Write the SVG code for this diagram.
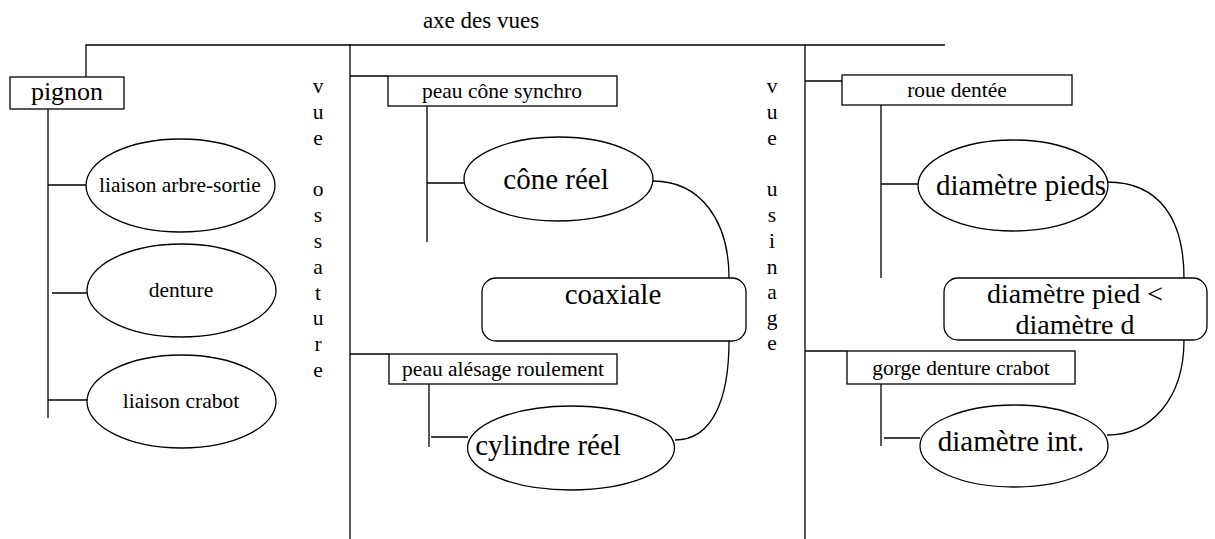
<svg xmlns="http://www.w3.org/2000/svg" width="1215" height="539" viewBox="0 0 1215 539">
<style>
.ln{fill:none;stroke:#000;stroke-width:1.3}
.bx{fill:#fff;stroke:#000;stroke-width:1.3}
</style>
<rect width="1215" height="539" fill="#fff"/>
<g id="connectors">
<polyline class="ln" points="86,77 86,45 945,45"/>
<line class="ln" x1="350" y1="44" x2="350" y2="539"/>
<line class="ln" x1="805" y1="45" x2="805" y2="539"/>
<line class="ln" x1="48" y1="109" x2="48" y2="418"/>
<line class="ln" x1="48" y1="185" x2="86" y2="185"/>
<line class="ln" x1="52" y1="293" x2="88" y2="293"/>
<line class="ln" x1="48" y1="400" x2="87" y2="400"/>
<line class="ln" x1="350" y1="76" x2="388" y2="76"/>
<line class="ln" x1="427" y1="106" x2="427" y2="242"/>
<line class="ln" x1="427" y1="183" x2="464" y2="183"/>
<line class="ln" x1="350" y1="354" x2="389" y2="354"/>
<line class="ln" x1="429" y1="384" x2="429" y2="447"/>
<line class="ln" x1="431" y1="437" x2="468" y2="437"/>
<line class="ln" x1="805" y1="81" x2="842" y2="81"/>
<line class="ln" x1="881" y1="105" x2="881" y2="278"/>
<line class="ln" x1="881" y1="184" x2="918" y2="184"/>
<line class="ln" x1="805" y1="351" x2="847" y2="351"/>
<line class="ln" x1="881" y1="384" x2="881" y2="446"/>
<line class="ln" x1="884" y1="438" x2="920" y2="438"/>
<path class="ln" d="M653 181 C700 181 729 220 729 278"/>
<path class="ln" d="M729 341 C729 400 712 440 675 440"/>
<path class="ln" d="M1107 182 C1160 182 1184 220 1184 278"/>
<path class="ln" d="M1184 340 C1184 400 1150 435 1107 435"/>
</g>
<g font-family="Liberation Serif, serif" fill="#000" text-anchor="middle">
<text x="481" y="28" font-size="23">axe des vues</text>
<g id="vue-ossature" font-size="21.5">
<text x="318" y="93">v</text>
<text x="318" y="119">u</text>
<text x="318" y="145">e</text>
<text x="318" y="196">o</text>
<text x="318" y="222">s</text>
<text x="318" y="248">s</text>
<text x="318" y="274">a</text>
<text x="318" y="300">t</text>
<text x="318" y="325">u</text>
<text x="318" y="351">r</text>
<text x="318" y="377">e</text>
</g>
<g id="vue-usinage" font-size="21.5">
<text x="772" y="93">v</text>
<text x="772" y="119">u</text>
<text x="772" y="145">e</text>
<text x="772" y="196">u</text>
<text x="772" y="222">s</text>
<text x="772" y="248">i</text>
<text x="772" y="274">n</text>
<text x="772" y="299">a</text>
<text x="772" y="325">g</text>
<text x="772" y="350">e</text>
</g>
<g id="pignon">
<rect class="bx" x="10" y="77" width="114" height="32"/>
<text x="67" y="100" font-size="26">pignon</text>
</g>
<g id="liaison-arbre-sortie">
<ellipse class="bx" cx="180.5" cy="185.5" rx="94.5" ry="46.5"/>
<text x="180" y="192" font-size="21.5">liaison arbre-sortie</text>
</g>
<g id="denture">
<ellipse class="bx" cx="181.5" cy="290.5" rx="94.5" ry="46.5"/>
<text x="181" y="297" font-size="21.5">denture</text>
</g>
<g id="liaison-crabot">
<ellipse class="bx" cx="181.5" cy="401.5" rx="94.5" ry="46.5"/>
<text x="181" y="408" font-size="21.5">liaison crabot</text>
</g>
<g id="peau-cone-synchro">
<rect class="bx" x="388" y="76" width="229" height="30"/>
<text x="502" y="98" font-size="21.5">peau cône synchro</text>
</g>
<g id="cone-reel">
<ellipse class="bx" cx="558.5" cy="179" rx="94.5" ry="42"/>
<text x="556" y="189" font-size="29">cône réel</text>
</g>
<g id="coaxiale">
<rect class="bx" x="482" y="278" width="264" height="63" rx="14" ry="14"/>
<text x="613" y="304" font-size="29">coaxiale</text>
</g>
<g id="peau-alesage-roulement">
<rect class="bx" x="389" y="354" width="228" height="30"/>
<text x="503" y="376" font-size="21.5">peau alésage roulement</text>
</g>
<g id="cylindre-reel">
<ellipse class="bx" cx="571" cy="448" rx="103.5" ry="42"/>
<text x="548" y="455" font-size="29">cylindre réel</text>
</g>
<g id="roue-dentee">
<rect class="bx" x="842" y="75" width="230" height="30"/>
<text x="957" y="97" font-size="21.5">roue dentée</text>
</g>
<g id="diametre-pieds">
<ellipse class="bx" cx="1013" cy="185.5" rx="95" ry="45.5"/>
<text x="1021" y="195" font-size="29">diamètre pieds</text>
</g>
<g id="diametre-pied-inf">
<rect class="bx" x="944" y="278" width="263" height="62" rx="14" ry="14"/>
<text x="1075" y="303" font-size="28">diamètre pied &lt;</text>
<text x="1075" y="334" font-size="28">diamètre d</text>
</g>
<g id="gorge-denture-crabot">
<rect class="bx" x="847" y="351" width="228" height="33"/>
<text x="961" y="375" font-size="21.5">gorge denture crabot</text>
</g>
<g id="diametre-int">
<ellipse class="bx" cx="1014" cy="446" rx="94" ry="41"/>
<text x="1011" y="451" font-size="29">diamètre int.</text>
</g>
</g>
</svg>
